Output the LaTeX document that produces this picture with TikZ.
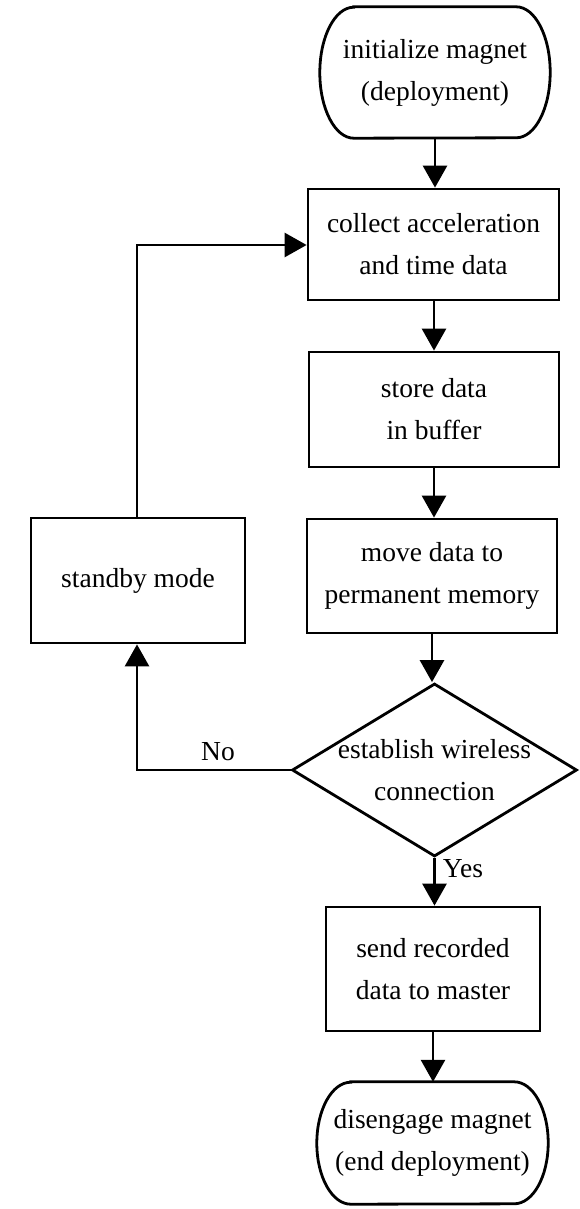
\documentclass[tikz,border=0pt]{standalone}
\usepackage{fontspec}
\setmainfont{Liberation Serif}
\usetikzlibrary{arrows.meta,shapes.geometric}

\begin{document}
\begin{tikzpicture}[x=1pt,y=-1pt,
  txt/.style={font={\fontsize{27.5}{42}\selectfont}, align=center},
  procbox/.style={txt, draw, line width=2.8pt, inner sep=0pt},
  termbox/.style={txt, inner sep=0pt},
  flow/.style={line width=2.8pt, -{Triangle[width=24pt,length=22pt]}},
  plain/.style={line width=2.8pt}
]
\useasboundingbox (0,0) rectangle (580,1209);

% terminals (outline drawn below with elliptical ends)
\node[termbox, minimum width=230pt, minimum height=131pt] (start) at (435,72.5)
  {initialize magnet\\(deployment)};
\node[termbox, minimum width=231pt, minimum height=122pt] (finish) at (432.5,1143)
  {disengage magnet\\(end deployment)};

\foreach \t/\r/\h in {start/34/65.5, finish/34/61}{
  \draw[plain] ([xshift=\r pt]\t.north west) -- ([xshift=-\r pt]\t.north east)
    arc[start angle=90, end angle=-90, x radius=\r pt, y radius=\h pt]
    -- ([xshift=\r pt]\t.south west)
    arc[start angle=270, end angle=90, x radius=\r pt, y radius=\h pt] -- cycle;
}

% process steps
\node[procbox, minimum width=251pt, minimum height=111pt] (collect) at (433.5,244.5)
  {collect acceleration\\and time data};
\node[procbox, minimum width=250pt, minimum height=115pt] (store) at (434,409.5)
  {store data\\in buffer};
\node[procbox, minimum width=250pt, minimum height=114pt] (move) at (432,576)
  {move data to\\permanent memory};
\node[procbox, minimum width=214pt, minimum height=125pt] (standby) at (138,580.5)
  {standby mode};
\node[procbox, minimum width=214pt, minimum height=124pt] (send) at (433,969)
  {send recorded\\data to master};

% decision
\node[diamond, draw, line width=2.8pt, inner sep=0pt,
      minimum width=285pt, minimum height=173pt,
      label={[txt]center:establish wireless\\connection}] (conn) at (434.5,770) {};

% connectors
\draw[flow] (start.south) -- (start.south |- collect.north);
\draw[flow] (collect.south -| store.north) -- (store.north);
\draw[flow] (store.south) -- (store.south |- move.north);
\draw[flow] (move.south) -- (move.south |- conn.north);
\draw[flow] (conn.south) -- (conn.south |- send.north);
\draw[flow] (send.south) -- (send.south |- finish.north);

\coordinate (noturn) at (137,770);
\coordinate (upturn) at (137,245);
\draw[flow] (conn.west) -- (noturn) -- (noturn |- standby.south);
\draw[flow] (upturn |- standby.north) -- (upturn) -- (collect.west |- upturn);

% branch labels
\node[txt] (nolab) at (218,752) {No};
\node[txt] (yeslab) at (463,869) {Yes};
\end{tikzpicture}
\end{document}
